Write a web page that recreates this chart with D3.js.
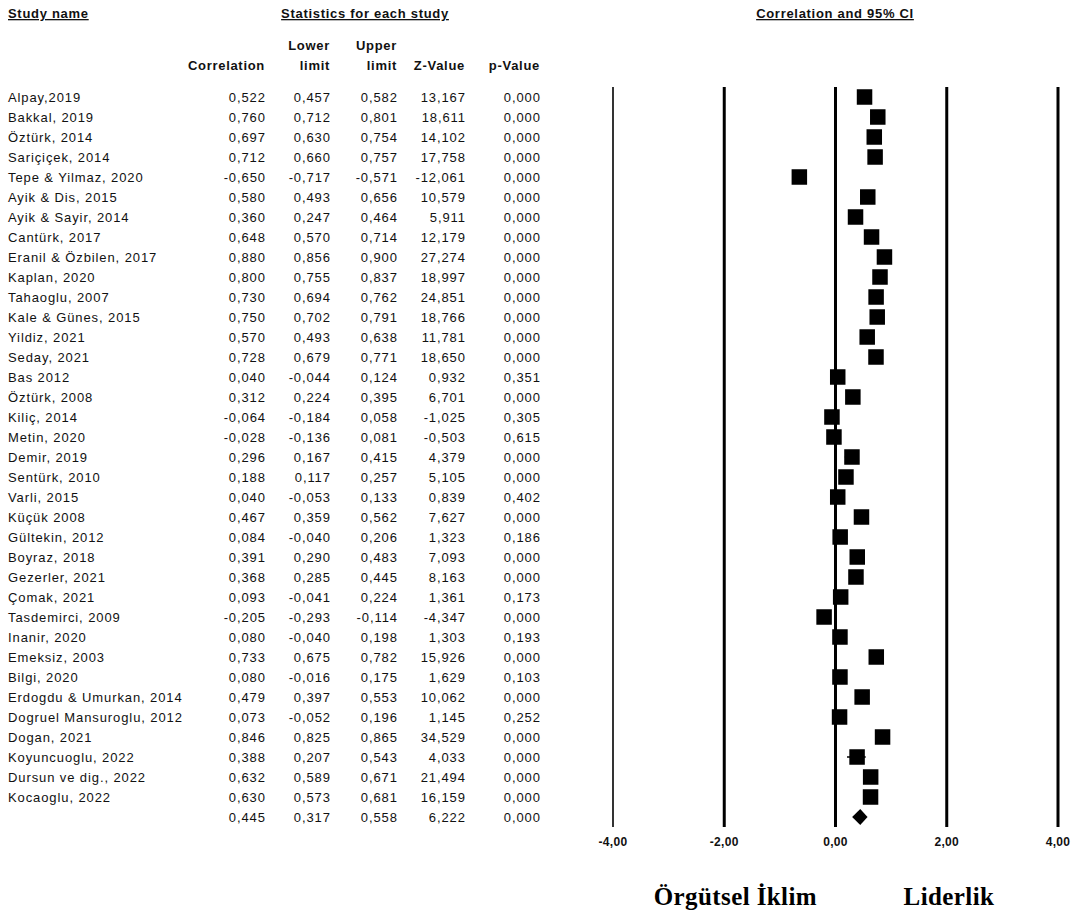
<!DOCTYPE html>
<html>
<head>
<meta charset="utf-8">
<script src="https://cdn.jsdelivr.net/npm/d3@7"></script>
<style>
  html, body { margin: 0; padding: 0; background: #fff; }
  svg { display: block; }
  .tbl { font-family: "Liberation Sans", Arial, sans-serif; font-size: 13px; letter-spacing: 0.9px; fill: #111; }
  .hdr { font-family: "Liberation Sans", Arial, sans-serif; font-size: 13px; letter-spacing: 0.7px; font-weight: bold; fill: #111; }
  .tick { font-family: "Liberation Sans", Arial, sans-serif; font-size: 12px; letter-spacing: 0.3px; font-weight: bold; fill: #111; }
  .lab { font-family: "Liberation Serif", "Times New Roman", serif; font-size: 25px; letter-spacing: 0.4px; font-weight: bold; fill: #000; }
</style>
</head>
<body>
<svg id="chart" width="1078" height="918"></svg>
<script>
const studies = ["Alpay,2019","Bakkal, 2019","Öztürk, 2014","Sariçiçek, 2014","Tepe & Yilmaz, 2020","Ayik & Dis, 2015","Ayik & Sayir, 2014","Cantürk, 2017","Eranil & Özbilen, 2017","Kaplan, 2020","Tahaoglu, 2007","Kale & Günes, 2015","Yildiz, 2021","Seday, 2021","Bas 2012","Öztürk, 2008","Kiliç, 2014","Metin, 2020","Demir, 2019","Sentürk, 2010","Varli, 2015","Küçük 2008","Gültekin, 2012","Boyraz, 2018","Gezerler, 2021","Çomak, 2021","Tasdemirci, 2009","Inanir, 2020","Emeksiz, 2003","Bilgi, 2020","Erdogdu & Umurkan, 2014","Dogruel Mansuroglu, 2012","Dogan, 2021","Koyuncuoglu, 2022","Dursun ve dig., 2022","Kocaoglu, 2022"];
const correlation = [0.522,0.760,0.697,0.712,-0.650,0.580,0.360,0.648,0.880,0.800,0.730,0.750,0.570,0.728,0.040,0.312,-0.064,-0.028,0.296,0.188,0.040,0.467,0.084,0.391,0.368,0.093,-0.205,0.080,0.733,0.080,0.479,0.073,0.846,0.388,0.632,0.630];
const lowerLimit = [0.457,0.712,0.630,0.660,-0.717,0.493,0.247,0.570,0.856,0.755,0.694,0.702,0.493,0.679,-0.044,0.224,-0.184,-0.136,0.167,0.117,-0.053,0.359,-0.040,0.290,0.285,-0.041,-0.293,-0.040,0.675,-0.016,0.397,-0.052,0.825,0.207,0.589,0.573];
const upperLimit = [0.582,0.801,0.754,0.757,-0.571,0.656,0.464,0.714,0.900,0.837,0.762,0.791,0.638,0.771,0.124,0.395,0.058,0.081,0.415,0.257,0.133,0.562,0.206,0.483,0.445,0.224,-0.114,0.198,0.782,0.175,0.553,0.196,0.865,0.543,0.671,0.681];
const zValue = [13.167,18.611,14.102,17.758,-12.061,10.579,5.911,12.179,27.274,18.997,24.851,18.766,11.781,18.650,0.932,6.701,-1.025,-0.503,4.379,5.105,0.839,7.627,1.323,7.093,8.163,1.361,-4.347,1.303,15.926,1.629,10.062,1.145,34.529,4.033,21.494,16.159];
const pValue = [0.000,0.000,0.000,0.000,0.000,0.000,0.000,0.000,0.000,0.000,0.000,0.000,0.000,0.000,0.351,0.000,0.305,0.615,0.000,0.000,0.402,0.000,0.186,0.000,0.000,0.173,0.000,0.193,0.000,0.103,0.000,0.252,0.000,0.000,0.000,0.000];
const summary = { correlation: 0.445, lower: 0.317, upper: 0.558, z: 6.222, p: 0.000 };
const axisTicks = [-4, -2, 0, 2, 4];
const columnHeaders = [["", "Correlation"], ["Lower", "limit"], ["Upper", "limit"], ["", "Z-Value"], ["", "p-Value"]];
const sideLabels = [{ text: "Örgütsel İklim", value: -1.8 }, { text: "Liderlik", value: 2.04 }];

const svg = d3.select("#chart");
const fmt = v => d3.format(".3f")(v).replace(".", ",").replace("−", "-");
const tickFmt = v => d3.format(".2f")(v).replace(".", ",").replace("−", "-");

const x = d3.scaleLinear().domain([-4, 4]).range([613, 1058]);
const y = d3.scaleLinear().domain([0, studies.length]).range([97, 97 + 20 * studies.length]);

// Headers
function underlined(text, xPos, yPos, anchor) {
  return svg.append("text").attr("class", "hdr").attr("x", xPos).attr("y", yPos)
    .attr("text-anchor", anchor).attr("text-decoration", "underline").text(text);
}
underlined("Study name", 8, 18, "start");
underlined("Statistics for each study", 365, 18, "middle");
underlined("Correlation and 95% CI", 835, 18, "middle");

const colRight = [265, 330, 397, 465, 540];
columnHeaders.forEach((h, i) => {
  svg.append("text").attr("class", "hdr").attr("x", colRight[i]).attr("y", 50).attr("text-anchor", "end").text(h[0]);
  svg.append("text").attr("class", "hdr").attr("x", colRight[i]).attr("y", 70).attr("text-anchor", "end").text(h[1]);
});

// Table rows
const rows = studies.map((s, i) => ({ name: s, vals: [correlation[i], lowerLimit[i], upperLimit[i], zValue[i], pValue[i]] }));
rows.push({ name: "", vals: [summary.correlation, summary.lower, summary.upper, summary.z, summary.p] });

const rowG = svg.append("g").selectAll("g").data(rows).join("g")
  .attr("transform", (d, i) => `translate(0,${y(i) + 4.5})`);
rowG.append("text").attr("class", "tbl").attr("x", 8).text(d => d.name);
colRight.forEach((cx, ci) => {
  rowG.append("text").attr("class", "tbl").attr("x", cx + 0.9).attr("text-anchor", "end").text(d => fmt(d.vals[ci]));
});

// Vertical lines at ticks
svg.append("g").selectAll("line").data(axisTicks).join("line")
  .attr("x1", d => x(d)).attr("x2", d => x(d))
  .attr("y1", 87).attr("y2", 827)
  .attr("stroke", "#000")
  .attr("stroke-width", d => d === -4 ? 1.6 : 3);

svg.append("g").selectAll("text").data(axisTicks).join("text")
  .attr("class", "tick").attr("x", d => x(d)).attr("y", 846).attr("text-anchor", "middle")
  .text(tickFmt);

// CI lines and squares
const marks = svg.append("g");
marks.selectAll("line").data(studies).join("line")
  .attr("x1", (d, i) => x(lowerLimit[i])).attr("x2", (d, i) => x(upperLimit[i]))
  .attr("y1", (d, i) => y(i)).attr("y2", (d, i) => y(i))
  .attr("stroke", "#000").attr("stroke-width", 1.5);
const sq = 15.5;
marks.selectAll("rect").data(studies).join("rect")
  .attr("x", (d, i) => x(correlation[i]) - sq / 2)
  .attr("y", (d, i) => y(i) - sq / 2)
  .attr("width", sq).attr("height", sq).attr("fill", "#000");

// Summary diamond
const sy = y(studies.length);
const halfH = 8;
svg.append("path")
  .attr("d", `M${x(summary.lower) - 1},${sy} L${x(summary.correlation)},${sy - halfH} L${x(summary.upper) + 1},${sy} L${x(summary.correlation)},${sy + halfH} Z`)
  .attr("fill", "#000");

// Bottom labels
svg.append("g").selectAll("text").data(sideLabels).join("text")
  .attr("class", "lab").attr("x", d => x(d.value)).attr("y", 905).attr("text-anchor", "middle")
  .text(d => d.text);
</script>
</body>
</html>
